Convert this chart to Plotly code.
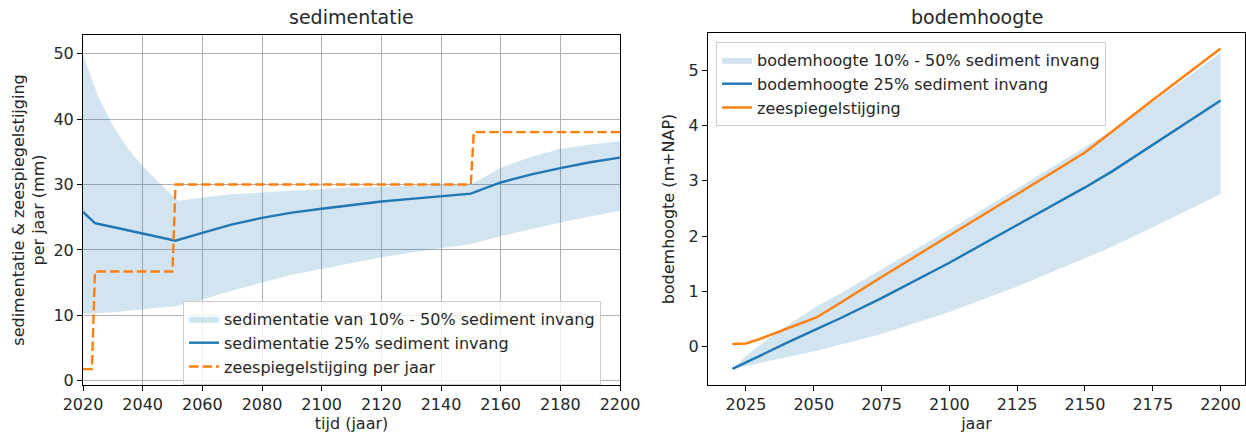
import plotly.graph_objects as go

# ---------------- data: left panel (sedimentatie, mm per jaar) ----------------
sed_years = [2020, 2024, 2030, 2040, 2051, 2060, 2070, 2080, 2090, 2100, 2110, 2120,
             2130, 2140, 2150, 2160, 2170, 2180, 2190, 2200]
sed_25 = [25.8, 24.1, 23.5, 22.5, 21.4, 22.6, 23.9, 24.9, 25.7, 26.3, 26.9, 27.4,
          27.8, 28.2, 28.6, 30.3, 31.5, 32.5, 33.4, 34.1]

band_years = [2020, 2025, 2030, 2035, 2040, 2045, 2050, 2051, 2052, 2060, 2070, 2080,
              2090, 2100, 2110, 2120, 2130, 2140, 2150, 2160, 2170, 2180, 2190, 2200]
sed_low = [10.2, 10.3, 10.5, 10.7, 10.9, 11.1, 11.3, 11.4, 11.5, 12.4, 13.8, 15.0,
           16.2, 17.1, 18.0, 18.9, 19.6, 20.3, 20.9, 22.1, 23.2, 24.2, 25.1, 26.0]
sed_high = [49.8, 43.5, 39.0, 35.5, 32.8, 30.5, 28.2, 27.8, 27.5, 28.0, 28.5, 28.8,
            29.1, 29.3, 29.5, 29.7, 29.8, 29.9, 30.0, 32.5, 34.2, 35.4, 36.1, 36.6]

sl_years = [2020, 2023, 2024, 2050, 2051, 2150, 2151, 2200]
sl_rate = [1.8, 1.8, 16.7, 16.7, 30.0, 30.0, 38.0, 38.0]

sed_xticks = [2020, 2040, 2060, 2080, 2100, 2120, 2140, 2160, 2180, 2200]
sed_yticks = [0, 10, 20, 30, 40, 50]

# ---------------- data: right panel (bodemhoogte, m+NAP) ----------------
bod_years = [2020, 2025, 2030, 2040, 2051, 2060, 2075, 2100, 2125, 2150, 2160, 2175, 2200]
bod_low = [-0.40, -0.35, -0.30, -0.19, -0.07, 0.04, 0.23, 0.63, 1.09, 1.60, 1.81, 2.16, 2.76]
bod_high = [-0.40, -0.17, 0.03, 0.38, 0.73, 0.97, 1.40, 2.12, 2.86, 3.60, 3.91, 4.42, 5.31]
bod_25 = [-0.40, -0.28, -0.16, 0.07, 0.32, 0.52, 0.88, 1.52, 2.20, 2.88, 3.17, 3.65, 4.45]
zeespiegel = [0.05, 0.06, 0.14, 0.32, 0.53, 0.80, 1.26, 2.01, 2.76, 3.51, 3.89, 4.46, 5.39]

bod_xticks = [2025, 2050, 2075, 2100, 2125, 2150, 2175, 2200]
bod_yticks = [0, 1, 2, 3, 4, 5]

# ---------------- styling ----------------
W, H = 1246, 437
BLUE = "#1f77b4"
ORANGE = "#ff7f0e"
BAND = "rgba(31,119,180,0.2)"
FONT = "DejaVu Sans"
TXT = "#262626"
FS = 16
LW = 2.4

fig = go.Figure()

# left panel
fig.add_trace(go.Scatter(x=band_years, y=sed_low, mode="lines", line=dict(width=0, color=BAND),
                         showlegend=False, hoverinfo="skip", xaxis="x", yaxis="y",
                         legendgroup="a"))
fig.add_trace(go.Scatter(x=band_years, y=sed_high, mode="lines", fill="tonexty", fillcolor=BAND,
                         line=dict(width=0, color=BAND),
                         name="sedimentatie van 10% - 50% sediment invang",
                         xaxis="x", yaxis="y", legend="legend", legendgroup="a"))
fig.add_trace(go.Scatter(x=sed_years, y=sed_25, mode="lines", line=dict(width=LW, color=BLUE),
                         name="sedimentatie 25% sediment invang", xaxis="x", yaxis="y",
                         legend="legend", legendgroup="b"))
fig.add_trace(go.Scatter(x=sl_years, y=sl_rate, mode="lines",
                         line=dict(width=LW, color=ORANGE, dash="9.5px,4px"),
                         name="zeespiegelstijging per jaar", xaxis="x", yaxis="y",
                         legend="legend", legendgroup="c"))

# right panel
fig.add_trace(go.Scatter(x=bod_years, y=bod_low, mode="lines", line=dict(width=0, color=BAND),
                         showlegend=False, hoverinfo="skip", xaxis="x2", yaxis="y2",
                         legendgroup="d"))
fig.add_trace(go.Scatter(x=bod_years, y=bod_high, mode="lines", fill="tonexty", fillcolor=BAND,
                         line=dict(width=0, color=BAND),
                         name="bodemhoogte 10% - 50% sediment invang",
                         xaxis="x2", yaxis="y2", legend="legend2", legendgroup="d"))
fig.add_trace(go.Scatter(x=bod_years, y=bod_25, mode="lines", line=dict(width=LW, color=BLUE),
                         name="bodemhoogte 25% sediment invang", xaxis="x2", yaxis="y2",
                         legend="legend2", legendgroup="e"))
fig.add_trace(go.Scatter(x=bod_years, y=zeespiegel, mode="lines", line=dict(width=LW, color=ORANGE),
                         name="zeespiegelstijging", xaxis="x2", yaxis="y2",
                         legend="legend2", legendgroup="f"))

axis_common = dict(showline=True, mirror=True, linecolor="black", linewidth=1,
                   ticks="outside", ticklen=5, tickcolor="black", tickwidth=1,
                   zeroline=False, automargin=False,
                   tickfont=dict(family=FONT, size=FS, color=TXT))

legend_common = dict(bgcolor="rgba(255,255,255,0.8)", bordercolor="#cccccc", borderwidth=1,
                     font=dict(family=FONT, size=FS, color=TXT),
                     xanchor="left", yanchor="top", traceorder="grouped", tracegroupgap=0)

title_font = dict(family=FONT, size=FS, color=TXT)

fig.update_layout(
    width=W, height=H,
    margin=dict(l=0, r=0, t=0, b=0),
    paper_bgcolor="white", plot_bgcolor="white",
    font=dict(family=FONT, size=FS, color=TXT),
    xaxis=dict(domain=[83 / W, 620 / W], range=[2020, 2200], tickvals=sed_xticks,
               showgrid=True, gridcolor="#b0b0b0", gridwidth=1, anchor="y",
               title=dict(text="tijd (jaar)", standoff=3, font=title_font),
               **axis_common),
    yaxis=dict(domain=[1 - 385 / H, 1 - 35 / H], range=[-0.63, 52.83], tickvals=sed_yticks,
               showgrid=True, gridcolor="#b0b0b0", gridwidth=1, anchor="x",
               title=dict(text="sedimentatie & zeespiegelstijging<br>per jaar (mm)", standoff=4,
                          font=title_font),
               **axis_common),
    xaxis2=dict(domain=[708 / W, 1245 / W], range=[2011, 2209], tickvals=bod_xticks,
                showgrid=False, anchor="y2",
                title=dict(text="jaar", standoff=3, font=title_font),
                **axis_common),
    yaxis2=dict(domain=[1 - 385 / H, 1 - 33 / H], range=[-0.69, 5.67], tickvals=bod_yticks,
                showgrid=False, anchor="x2",
                title=dict(text="bodemhoogte (m+NAP)", standoff=10, font=title_font),
                **axis_common),
    legend=dict(x=183 / W, y=1 - 301 / H, **legend_common),
    legend2=dict(x=716 / W, y=1 - 42 / H, **legend_common),
    annotations=[
        dict(text="sedimentatie", x=(83 + 620) / 2 / W, y=1 - 17 / H, xref="paper", yref="paper",
             xanchor="center", yanchor="middle", showarrow=False,
             font=dict(family=FONT, size=19, color=TXT)),
        dict(text="bodemhoogte", x=(708 + 1245) / 2 / W, y=1 - 17 / H, xref="paper", yref="paper",
             xanchor="center", yanchor="middle", showarrow=False,
             font=dict(family=FONT, size=19, color=TXT)),
    ],
    showlegend=True,
)

fig.write_html("out.html",
               config={"displayModeBar": False},
               post_script="document.body.style.margin='0';document.body.style.overflow='hidden';")
